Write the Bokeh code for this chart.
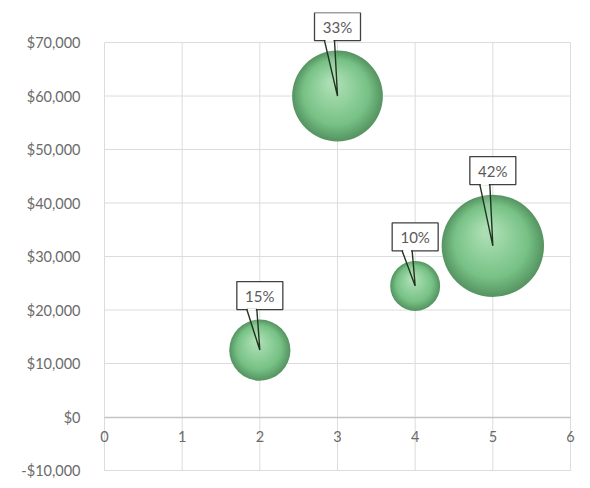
import numpy as np
from bokeh.plotting import figure
from bokeh.models import FixedTicker, NumeralTickFormatter, Range1d
from bokeh.embed import file_html
from bokeh.resources import INLINE

# ---- data ----
x_vals = [2, 3, 4, 5]
y_vals = [12500, 60000, 24500, 32000]
share = [15, 33, 10, 42]
labels = ["15%", "33%", "10%", "42%"]
x_ticks = [0, 1, 2, 3, 4, 5, 6]
y_ticks = [-10000, 0, 10000, 20000, 30000, 40000, 50000, 60000, 70000]

W, H = 582, 480
# scale: 6 x-units over 466 px, 80000 y-units over 428 px
dx = 6 / 466
dy = 80000 / 428
PAD_L, PAD_R, PAD_T, PAD_B = 12, 12, 30, 2
x0, x1 = 0 - PAD_L * dx, 6 + PAD_R * dx
y0, y1 = -10000 - PAD_B * dy, 70000 + PAD_T * dy
ML = 104 - PAD_L
MT = 42 - PAD_T
MR = W - ML - int(round((x1 - x0) / dx))
MB = H - MT - int(round((y1 - y0) / dy))

p = figure(width=W, height=H, output_backend="svg", toolbar_location=None,
           x_range=Range1d(x0, x1), y_range=Range1d(y0, y1),
           min_border_left=ML, min_border_right=MR, min_border_top=MT,
           min_border_bottom=MB)
p.background_fill_color = "white"
p.border_fill_color = "white"
p.outline_line_color = None
p.xgrid.visible = False
p.ygrid.visible = False

FONT = "Lato"
p.xaxis.ticker = FixedTicker(ticks=x_ticks)
p.yaxis.ticker = FixedTicker(ticks=y_ticks)
p.yaxis.formatter = NumeralTickFormatter(format="$0,0")
p.xaxis.fixed_location = 0
p.xaxis.bounds = (0, 6)
for ax in (p.xaxis, p.yaxis):
    ax.major_label_text_font = FONT
    ax.major_label_text_font_size = "14.5px"
    ax.major_label_text_color = "#6a6a6a"
    ax.major_tick_line_color = None
    ax.minor_tick_line_color = None
p.xaxis.axis_line_color = "#c4c4c4"
p.xaxis.axis_line_width = 1.5
p.xaxis.major_label_standoff = 8
p.yaxis.axis_line_color = None
p.yaxis.major_label_standoff = 6

# gridlines bounded to the data area
grid_col = "#dcdcdc"
p.segment(x_ticks, [y_ticks[0]] * len(x_ticks), x_ticks, [y_ticks[-1]] * len(x_ticks),
          line_color=grid_col, line_width=1)
hy = [t for t in y_ticks if t != 0]
p.segment([x_ticks[0]] * len(hy), hy, [x_ticks[-1]] * len(hy), hy,
          line_color=grid_col, line_width=1)

# bubble radii (area proportional), px
radii = [7.9 * np.sqrt(s) for s in share]

# shaded bubbles via many layered circles (smooth radial gradient)
edge = np.array([0x58, 0x96, 0x64])
mid = np.array([0x78, 0xc2, 0x86])
hi = np.array([0xab, 0xdf, 0xb3])
N = 28
for i in range(N):
    t = i / (N - 1)
    frac = 1.0 - 0.88 * t
    up = 0.28 * t
    left = 0.10 * t
    if t < 0.3:
        c = edge + (mid - edge) * (t / 0.3)
    else:
        c = mid + (hi - mid) * ((t - 0.3) / 0.7)
    col = "#%02x%02x%02x" % tuple(int(v) for v in c)
    ys = [y + up * r * dy for y, r in zip(y_vals, radii)]
    xs = [x - left * r * dx for x, r in zip(x_vals, radii)]
    p.scatter(xs, ys, size=[2 * r * frac for r in radii],
              fill_color=col, line_color=None)

# callouts
box_w, box_h = 46, 28
for x, y, r, lab in zip(x_vals, y_vals, radii, labels):
    bottom = y + (r + 10) * dy
    cy = bottom + box_h / 2 * dy
    p.rect([x], [cy], width=box_w, height=box_h, width_units="screen",
           height_units="screen", fill_color="white", line_color="#404040",
           line_width=1.3)
    px = [x - 13 * dx, x - 3 * dx, x]
    py = [bottom, bottom, y]
    p.patch(px, py, fill_color="white", fill_alpha=0.15, line_color="#22331f",
            line_width=1.4)
    p.segment([x - 12 * dx], [bottom], [x - 4 * dx], [bottom],
              line_color="white", line_width=2.2)
    p.text([x], [cy], text=[lab], text_align="center", text_baseline="middle",
           text_font={"value": FONT}, text_font_size="15px",
           text_color="#5a5a5a")

open("out.html", "w").write(file_html(p, INLINE))
